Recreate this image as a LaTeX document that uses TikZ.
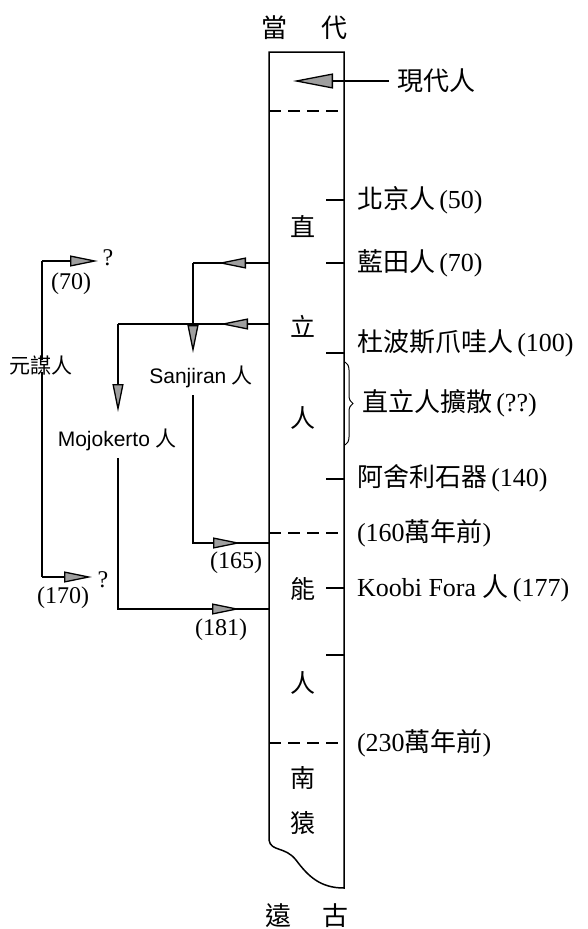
\documentclass[tikz,border=0pt]{standalone}
\usepackage{fontspec}
\setmainfont{Liberation Serif}
\newfontfamily\cjk{Noto Sans CJK TC}
\newfontfamily\lsans{Liberation Sans}
\usetikzlibrary{arrows.meta,decorations.pathreplacing}
\tikzset{
  every node/.style={inner sep=0pt, outer sep=0pt},
  rlbl/.style={anchor=west, font=\fontsize{26}{28}\selectfont},
  llbl/.style={font=\fontsize{21}{23}\selectfont},
  nlbl/.style={font=\fontsize{24}{26}\selectfont},
  clbl/.style={font=\cjk\fontsize{25}{27}\selectfont},
  tlbl/.style={font=\cjk\fontsize{26}{28}\selectfont},
  harr/.style={-{Triangle[length=28pt,width=11pt,fill=gray!75]}},
  bigarr/.style={-{Triangle[length=40pt,width=15pt,fill=gray!75]}},
  tick/.style={line width=1.3pt},
  dline/.style={dashed, dash pattern=on 12pt off 7pt, line width=1.4pt},
}
\begin{document}
\begin{tikzpicture}[x=1pt,y=-1pt,line width=1.3pt]
\useasboundingbox (0,0) rectangle (587,929);
% column
\coordinate (TL) at (269,52);
\coordinate (TR) at (344,52);
\coordinate (BR) at (344,888);
\coordinate (BL) at (269,840);
\draw[line width=1.5pt] (BL) -- (TL) -- (TR) -- (BR)
  .. controls (320,888) and (308,876) .. (296,860)
  .. controls (285,846) and (271,852) .. (BL);
% dashed separators
\draw[dline] (269,111) -- (344,111);
\draw[dline] (269,533) -- (344,533);
\draw[dline] (269,743) -- (344,743);
% titles
\node[tlbl] (t1) at (274,28) {當};
\node[tlbl] (t2) at (334,28) {代};
\node[tlbl] (b1) at (278,916) {遠};
\node[tlbl] (b2) at (335,916) {古};
% column labels
\node[clbl] (c1) at (303,227) {直};
\node[clbl] (c2) at (303,326) {立};
\node[clbl] (c3) at (303,418) {人};
\node[clbl] (c4) at (303,589) {能};
\node[clbl] (c5) at (303,683) {人};
\node[clbl] (c6) at (303,778) {南};
\node[clbl] (c7) at (303,823) {猿};
% modern humans arrow
\node[rlbl] (modern) at (397,81) {\cjk 現代人};
\coordinate (mtip) at (293,81);
\draw[bigarr] (modern.west) ++(-8,0) coordinate (mstart) -- (mtip);
% ticks and right labels
\foreach \y/\n in {200/k1,263/k2,353/k3,479/k4,588/k5,655/k6}{
  \coordinate (\n a) at (326,\y);
  \coordinate (\n b) at (344,\y);
  \draw[tick] (\n a) -- (\n b);
}
\node[rlbl] (l1) at (357,200) {{\cjk 北京人}\,(50)};
\node[rlbl] (l2) at (357,263) {{\cjk 藍田人}\,(70)};
\node[rlbl] (l3) at (357,343) {{\cjk 杜波斯爪哇人}\,(100)};
\node[rlbl] (l4) at (362,403) {{\cjk 直立人擴散}\,(??)};
\node[rlbl] (l5) at (357,478) {{\cjk 阿舍利石器}\,(140)};
\node[rlbl] (l6) at (357,533) {(160{\cjk 萬年前})};
\node[rlbl] (l7) at (357,588) {Koobi Fora {\cjk 人}\,(177)};
\node[rlbl] (l8) at (357,743) {(230{\cjk 萬年前})};
% brace
\coordinate (br1) at (345,362);
\coordinate (br2) at (345,445);
\draw[line width=1pt, decorate, decoration={brace, amplitude=8pt}] (br1) -- (br2);
% left: Yuanmou
\node[llbl] (ym) at (41,366) {\cjk 元謀人};
\coordinate (ymt) at (42,261);
\coordinate (ymb) at (42,577);
\coordinate (q1tip) at (98,261);
\coordinate (q2tip) at (92,577);
\node[nlbl] (q1) at (108,258) {?};
\node[nlbl] (q2) at (103,580) {?};
\node[nlbl] (n70) at (71,284) {(70)};
\node[nlbl] (n170) at (63,598) {(170)};
\draw ([yshift=-4pt]ym.north -| ymt) -- (ymt);
\draw[harr] (ymt) -- (q1tip);
\draw ([yshift=4pt]ym.south -| ymb) -- (ymb);
\draw[harr] (ymb) -- (q2tip);
% Sanjiran
\coordinate (s0) at (269,263);
\coordinate (s1) at (193,263);
\coordinate (s1a) at (218,263);
\coordinate (s2) at (193,353);
\node[llbl] (sj) at (201,377) {{\lsans Sanjiran} {\cjk 人}};
\coordinate (s3) at (193,395);
\coordinate (s4) at (193,543);
\coordinate (s5) at (269,543);
\coordinate (s5a) at (241,543);
\draw (s0) -- (s1);
\draw[harr] (s0) -- (s1a);
\draw[harr] (s1) -- (s2);
\draw (s3) -- (s4) -- (s5);
\draw[harr] (s4) -- (s5a);
\node[nlbl] (n165) at (236,563) {(165)};
% Mojokerto
\coordinate (m0) at (269,324);
\coordinate (m1) at (118,324);
\coordinate (m1a) at (220,324);
\coordinate (m2) at (118,412);
\node[llbl] (mj) at (117,440) {{\lsans Mojokerto} {\cjk 人}};
\coordinate (m3) at (118,458);
\coordinate (m4) at (118,609);
\coordinate (m5) at (269,609);
\coordinate (m5a) at (240,609);
\draw (m0) -- (m1);
\draw[harr] (m0) -- (m1a);
\draw[harr] (m1) -- (m2);
\draw (m3) -- (m4) -- (m5);
\draw[harr] (m4) -- (m5a);
\node[nlbl] (n181) at (221,630) {(181)};
\end{tikzpicture}
\end{document}
